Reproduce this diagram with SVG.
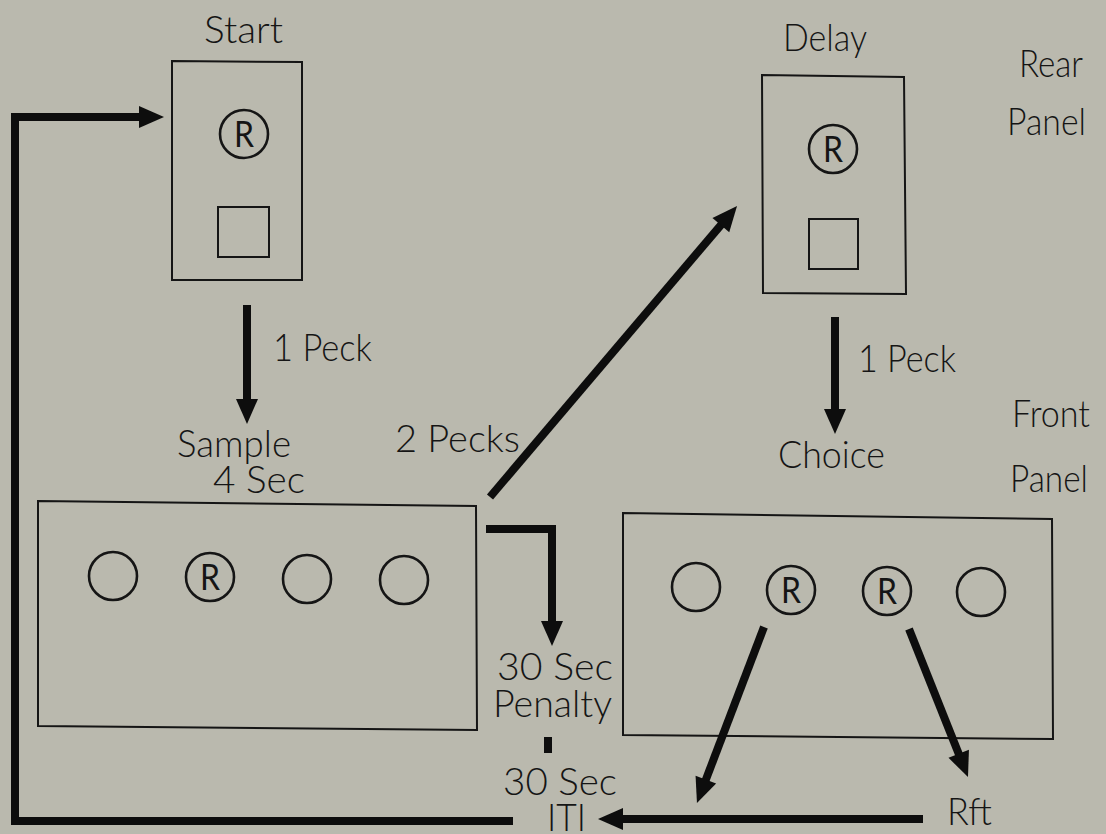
<svg xmlns="http://www.w3.org/2000/svg" width="1106" height="834" viewBox="0 0 1106 834">
<defs>
<style>
.bg{fill:#bab9ae}
.box{fill:none;stroke:#151515;stroke-width:2}
.key{fill:none;stroke:#151515;stroke-width:2.6}
.t{font-family:Lato,"Liberation Sans",Arial,sans-serif;font-weight:300;font-size:37px;fill:#151515}
.r{font-family:Lato,"Liberation Sans",Arial,sans-serif;font-weight:400;font-size:36px;fill:#151515;text-anchor:middle}
.c{fill:none;stroke:#0d0d0d;stroke-width:8;stroke-linejoin:miter}
</style>
<marker id="ah" markerUnits="userSpaceOnUse" markerWidth="26" markerHeight="24" refX="0" refY="12" orient="auto" overflow="visible">
<path d="M-1,1 L24,12 L-1,23 Z" fill="#0d0d0d"/>
</marker>
</defs>
<rect class="bg" x="0" y="0" width="1106" height="834"/>

<g id="start">
<text class="t" x="204" y="43" textLength="79" lengthAdjust="spacingAndGlyphs">Start</text>
<path class="box" d="M172,61 L302,62 L302,280 L172,280 Z"/>
<circle class="key" cx="244" cy="134" r="24"/>
<text class="r" x="244" y="147" textLength="20" lengthAdjust="spacingAndGlyphs">R</text>
<rect class="box" x="218" y="207" width="51" height="50"/>
</g>

<g id="delay">
<text class="t" x="783" y="51" textLength="84" lengthAdjust="spacingAndGlyphs">Delay</text>
<path class="box" d="M762,75 L904,77 L906,294 L763,293 Z"/>
<circle class="key" cx="833" cy="149" r="24"/>
<text class="r" x="833" y="162" textLength="20" lengthAdjust="spacingAndGlyphs">R</text>
<rect class="box" x="809" y="219" width="49" height="50"/>
</g>

<g id="rear-panel">
<text class="t" x="1019" y="77" textLength="64" lengthAdjust="spacingAndGlyphs">Rear</text>
<text class="t" x="1007" y="135" textLength="79" lengthAdjust="spacingAndGlyphs">Panel</text>
</g>

<g id="sample">
<text class="t" x="177" y="457" textLength="114" lengthAdjust="spacingAndGlyphs">Sample</text>
<text class="t" x="213" y="493" textLength="92" lengthAdjust="spacingAndGlyphs">4 Sec</text>
<path class="box" d="M38,501 L476,506 L477,730 L38,726 Z"/>
<circle class="key" cx="113" cy="576" r="24"/>
<circle class="key" cx="210" cy="577" r="24"/>
<text class="r" x="210" y="590" textLength="20" lengthAdjust="spacingAndGlyphs">R</text>
<circle class="key" cx="307" cy="579" r="24"/>
<circle class="key" cx="404" cy="580" r="24"/>
</g>

<g id="choice">
<text class="t" x="778" y="468" textLength="107" lengthAdjust="spacingAndGlyphs">Choice</text>
<path class="box" d="M623,513 L1052,519 L1053,739 L623,735 Z"/>
<circle class="key" cx="696" cy="587" r="24"/>
<circle class="key" cx="791" cy="590" r="24"/>
<text class="r" x="791" y="603" textLength="20" lengthAdjust="spacingAndGlyphs">R</text>
<circle class="key" cx="887" cy="591" r="24"/>
<text class="r" x="887" y="604" textLength="20" lengthAdjust="spacingAndGlyphs">R</text>
<circle class="key" cx="981" cy="592" r="24"/>
</g>

<g id="front-panel">
<text class="t" x="1012" y="427" textLength="78" lengthAdjust="spacingAndGlyphs">Front</text>
<text class="t" x="1010" y="492" textLength="78" lengthAdjust="spacingAndGlyphs">Panel</text>
</g>

<g id="penalty">
<text class="t" x="497" y="680" textLength="116" lengthAdjust="spacingAndGlyphs">30 Sec</text>
<text class="t" x="493" y="717" textLength="119" lengthAdjust="spacingAndGlyphs">Penalty</text>
</g>

<g id="iti">
<text class="t" x="503" y="795" textLength="114" lengthAdjust="spacingAndGlyphs">30 Sec</text>
<text class="t" x="547" y="831" textLength="39" lengthAdjust="spacingAndGlyphs">ITI</text>
</g>

<g id="rft">
<text class="t" x="947" y="825" textLength="45" lengthAdjust="spacingAndGlyphs">Rft</text>
</g>

<g id="connectors">
<path class="c" d="M513,821 L15,821 L15,117 L140,117" marker-end="url(#ah)"/>
<path class="c" d="M247,305 L247,400" marker-end="url(#ah)"/>
<path class="c" d="M835,317 L835,410" marker-end="url(#ah)"/>
<path class="c" d="M490,497 L721.5,224.3" marker-end="url(#ah)"/>
<path class="c" d="M486,529 L552,529 L552,622" marker-end="url(#ah)"/>
<path class="c" d="M764,627 L705.5,780.6" marker-end="url(#ah)"/>
<path class="c" d="M909,629 L959.1,754.7" marker-end="url(#ah)"/>
<path class="c" d="M923,819 L622,819" marker-end="url(#ah)"/>
<path class="c" d="M548,737 L548,753" stroke-width="7"/>
<text class="t" x="273" y="361" textLength="99" lengthAdjust="spacingAndGlyphs">1 Peck</text>
<text class="t" x="858" y="372" textLength="98" lengthAdjust="spacingAndGlyphs">1 Peck</text>
<text class="t" x="395" y="452" textLength="125" lengthAdjust="spacingAndGlyphs">2 Pecks</text>
</g>
</svg>
